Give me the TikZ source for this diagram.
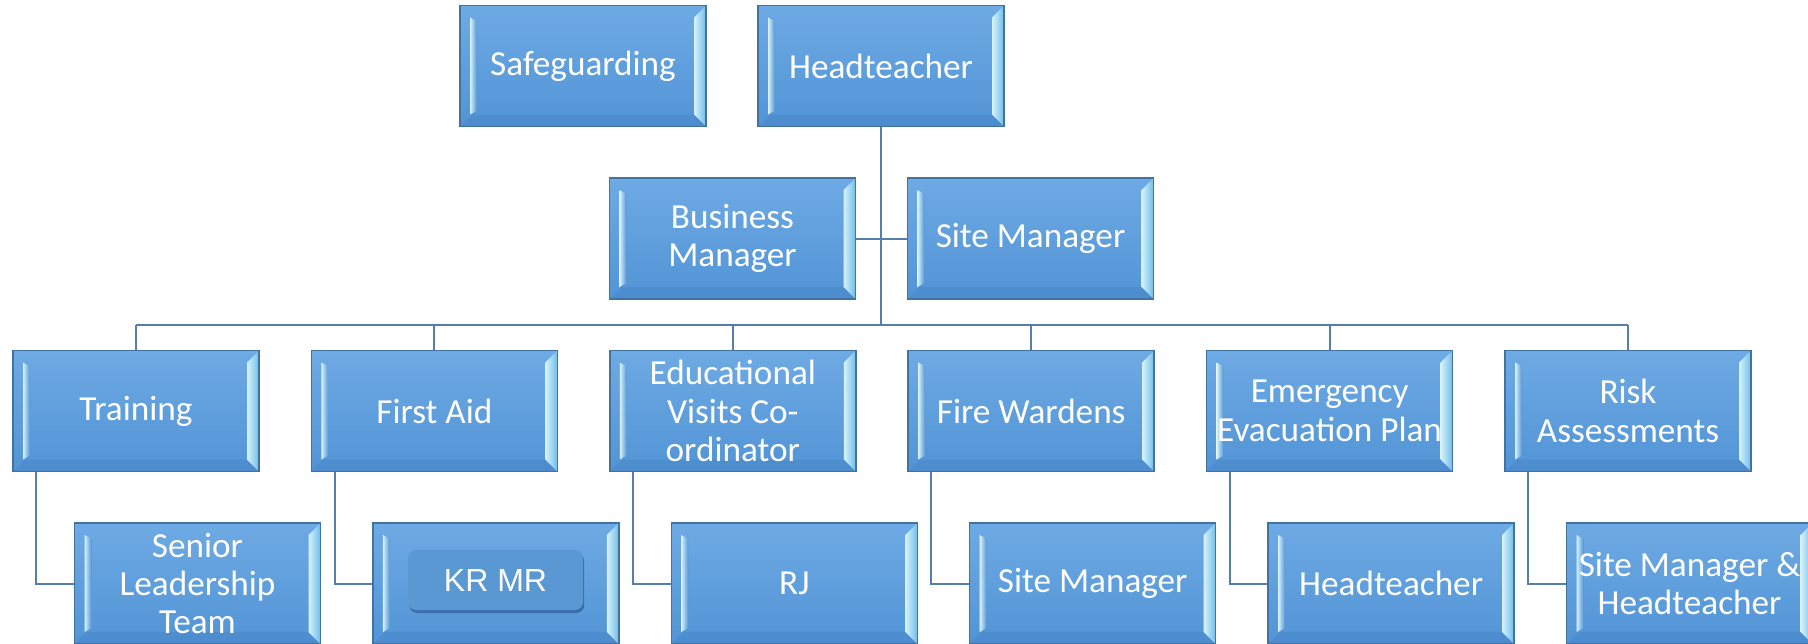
\documentclass[tikz,border=0pt]{standalone}
\usepackage{fontspec}
\setmainfont{Carlito}
\newfontfamily\arialfont{Liberation Sans}
\usetikzlibrary{ calc
               , positioning
               , shadows
               }

\definecolor{boxTop}{RGB}{110,170,228}
\definecolor{boxBottom}{RGB}{82,148,214}
\definecolor{boxEdge}{RGB}{66,114,160}
\definecolor{bevelLight}{RGB}{214,242,252}
\definecolor{bevelDark}{RGB}{110,188,232}
\definecolor{bevelLow}{RGB}{60,120,186}
\definecolor{linkCol}{RGB}{84,126,172}
\definecolor{tagFill}{RGB}{90,152,212}
\definecolor{tagShade}{RGB}{58,110,168}

\begin{document}
\begin{tikzpicture}
      [ x=0.5pt, y=-0.5pt
      , orgbox/.style={draw=boxEdge, line width=0.75pt, top color=boxTop, bottom color=boxBottom
        , minimum width=123pt, minimum height=60.5pt, inner sep=0pt, align=center
        , text=white, font=\fontsize{17.6}{19.2}\selectfont
        , path picture={
            \path[fill=bevelLow, opacity=0.25]
              (path picture bounding box.south west) -- (path picture bounding box.south east)
              -- ([shift={(-6pt,6pt)}]path picture bounding box.south east)
              -- ([shift={(6pt,6pt)}]path picture bounding box.south west) -- cycle;
            \path[left color=bevelLight, right color=bevelDark]
              (path picture bounding box.north east) -- (path picture bounding box.south east)
              -- ([shift={(-6pt,6pt)}]path picture bounding box.south east)
              -- ([shift={(-6pt,-6pt)}]path picture bounding box.north east) -- cycle;
            \path[left color=bevelLight, right color=boxBottom]
              ([shift={(5pt,-6pt)}]path picture bounding box.north west)
              -- ([shift={(8.5pt,-8pt)}]path picture bounding box.north west)
              -- ([shift={(8.5pt,8pt)}]path picture bounding box.south west)
              -- ([shift={(5pt,6pt)}]path picture bounding box.south west) -- cycle;
          }}
      , tag/.style={rounded corners=4pt, fill=tagFill, minimum width=87.5pt, minimum height=30pt
        , text=white, font=\arialfont\fontsize{16}{19.2}\selectfont
        , drop shadow={shadow xshift=0.6pt, shadow yshift=-1.5pt, fill=tagShade, opacity=1}}
      , link/.style={draw=linkCol, line width=1pt}
      ]
    \useasboundingbox (0,0) rectangle (1808,643);
    \clip (0,0) rectangle (1808,643);

    \node[orgbox] (SG) at (583,66) {Safeguarding};
    \node[orgbox] (HT) at (881,66) {Headteacher};
    \node[orgbox] (BM) at (732.5,238.5) {Business\\Manager};
    \node[orgbox] (SM) at (1030.5,238.5) {Site Manager};
    \coordinate (bus) at (881,325);

    \node[orgbox] (TR) at (136,411) {Training};
    \node[orgbox] (FA) at (434.4,411) {First Aid};
    \node[orgbox] (EV) at (732.8,411) {Educational\\Visits Co-\\ordinator};
    \node[orgbox] (FW) at (1031.2,411) {Fire Wardens};
    \node[orgbox] (EP) at (1329.6,411) {Emergency\\Evacuation Plan};
    \node[orgbox] (RA) at (1628,411) {Risk\\Assessments};

    \node[orgbox] (TRwho) at (197.5,583.5) {Senior\\Leadership\\Team};
    \node[orgbox] (FAwho) at (495.9,583.5) {};
    \node[tag] (KR) at (495.5,580) {KR MR};
    \node[orgbox] (EVwho) at (794.3,583.5) {RJ};
    \node[orgbox] (FWwho) at (1092.7,583.5) {Site Manager};
    \node[orgbox] (EPwho) at (1391.1,583.5) {Headteacher};
    \node[orgbox] (RAwho) at (1689.5,583.5) {Site Manager \&\\Headteacher};

    \draw[link]
    (HT) -- (bus)
    (BM.east) -- (SM.west)
    (TR |- bus) -- (RA |- bus)

    (TR |- bus) -- (TR)
    (FA |- bus) -- (FA)
    (EV |- bus) -- (EV)
    (FW |- bus) -- (FW)
    (EP |- bus) -- (EP)
    (RA |- bus) -- (RA);

    \draw[link]
    ([xshift=12pt]TR.south west) |- (TRwho.west)
    ([xshift=12pt]FA.south west) |- (FAwho.west)
    ([xshift=12pt]EV.south west) |- (EVwho.west)
    ([xshift=12pt]FW.south west) |- (FWwho.west)
    ([xshift=12pt]EP.south west) |- (EPwho.west)
    ([xshift=12pt]RA.south west) |- (RAwho.west);
\end{tikzpicture}
\end{document}
